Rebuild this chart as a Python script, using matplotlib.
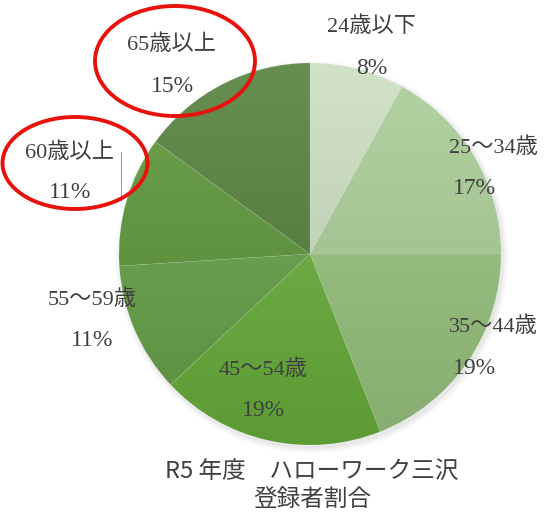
"""
R5 年度 ハローワーク三沢 登録者割合 - pie chart
"""

import numpy as np
import matplotlib.pyplot as plt
from matplotlib.colors import to_rgb
from matplotlib.patches import Ellipse

# Data
categories = ['24歳以下', '25～34歳', '35～44歳', '45～54歳', '55～59歳', '60歳以上', '65歳以上']
shares = [8, 17, 19, 19, 11, 11, 15]
colors = ['#cbdec1', '#aacd96', '#98c47e', '#69b03b', '#66a248', '#5b9638', '#537f3a']
title = 'R5 年度　ハローワーク三沢\n登録者割合'

# label anchors in pixel coords (x, y from top)
label_pos = [(372, 27), (493, 148), (493, 327), (263, 370), (92, 300), (70, 153), (172, 45)]
pct_pos = [(372, 68), (474, 188), (474, 368), (263, 410), (92, 340), (70, 193), (172, 86)]

W, H = 544, 520
CX, CY, R = 310, 520 - 254, 191
TEXT = '#404040'
LABEL_FONT = ['Liberation Serif', 'Noto Sans CJK JP']


def shade(c, f):
    """f > 0 lightens, f < 0 darkens"""
    c = np.array(to_rgb(c))
    if f > 0:
        return c + (1 - c) * f
    return c * (1 + f)


def main():
    fig = plt.figure(figsize=(W / 100, H / 100), dpi=100)
    ax = fig.add_axes([0, 0, 1, 1])

    # soft shadow
    for i, a in enumerate([0.05, 0.05, 0.04, 0.03]):
        sh = plt.Circle((CX + 2, CY - 3), R + 1 + i * 1.5, color='#808080', alpha=a, lw=0)
        ax.add_patch(sh)

    wedges, _ = ax.pie(shares, colors=colors, startangle=90, counterclock=False,
                       center=(CX, CY), radius=R, frame=True,
                       wedgeprops=dict(edgecolor=(1, 1, 1, 0.1), linewidth=0.5))
    ax.set_xlim(0, W)
    ax.set_ylim(0, H)
    ax.set_aspect('equal')
    ax.axis('off')

    # vertical gradient inside each wedge, lighter at top
    t = np.linspace(0, 1, 200)[:, None]
    for w, c in zip(wedges, colors):
        top = shade(c, 0.12)
        bot = shade(c, -0.12)
        img = (top[None, None, :] * (1 - t[..., None]) + bot[None, None, :] * t[..., None])
        img = np.repeat(img, 2, axis=1)
        im = ax.imshow(img, extent=(CX - R, CX + R, CY - R, CY + R), origin='upper',
                       aspect='auto', zorder=w.get_zorder() + 0.1)
        im.set_clip_path(w)
    for w in wedges:
        w.set_zorder(w.get_zorder() + 0.2)
        w.set_facecolor('none')

    # labels
    for name, val, (px, py), (qx, qy) in zip(categories, shares, label_pos, pct_pos):
        ax.text(px, H - py, name, ha='center', va='center', fontsize=16,
                color=TEXT, family=LABEL_FONT, zorder=5)
        ax.text(qx, H - qy, f'{val}%', ha='center', va='center', fontsize=17,
                color=TEXT, family=LABEL_FONT, zorder=5)

    # leader line for 60歳以上
    ax.plot([121, 121], [H - 152, H - 200], color='#a0a0a0', lw=0.8, zorder=5)

    # red highlight ellipses
    ax.add_patch(Ellipse((175, H - 61), 160, 110, fill=False, edgecolor='#e8120c', lw=2.8, zorder=6))
    ax.add_patch(Ellipse((75, H - 163), 145, 92, fill=False, edgecolor='#e8120c', lw=2.8, zorder=6))

    # title
    ax.text(312, H - 486, title, ha='center', va='center', fontsize=17, color=TEXT,
            family=['Noto Sans CJK JP', 'DejaVu Sans'], linespacing=1.2, zorder=5)

    fig.savefig('out.png', dpi=100)


if __name__ == "__main__":
    main()
